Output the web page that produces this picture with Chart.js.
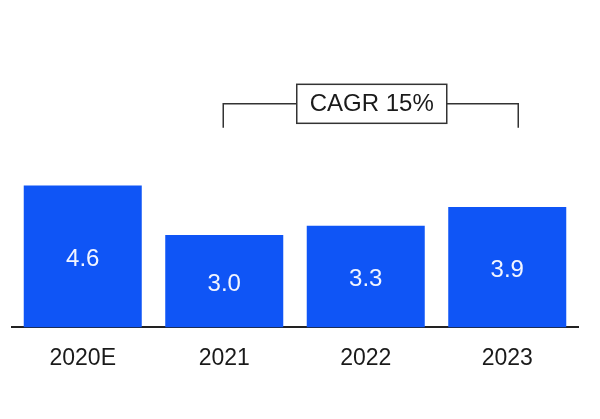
<!DOCTYPE html>
<html>
<head>
<meta charset="utf-8">
<script src="https://cdn.jsdelivr.net/npm/chart.js@4/dist/chart.umd.min.js"></script>
<style>
html,body{margin:0;padding:0;background:#fff;}
#wrap{width:600px;height:419px;}
</style>
</head>
<body>
<div id="wrap"><canvas id="c" width="600" height="419"></canvas></div>
<script>
const categories = ["2020E", "2021", "2022", "2023"];
const values = [4.6, 3.0, 3.3, 3.9];
const valueLabels = ["4.6", "3.0", "3.3", "3.9"];
const cagrText = "CAGR 15%";
const cagrFrom = 1;
const cagrTo = 3;

const FONT = "'Liberation Sans', Arial, sans-serif";

const barLabelPlugin = {
  id: 'barLabels',
  afterDatasetsDraw(chart) {
    const ctx = chart.ctx;
    const meta = chart.getDatasetMeta(0);
    ctx.save();
    ctx.fillStyle = '#f2f5ff';
    ctx.font = '24px ' + FONT;
    ctx.textAlign = 'center';
    ctx.textBaseline = 'middle';
    meta.data.forEach((bar, i) => {
      const p = bar.getProps(['x', 'y', 'base'], true);
      ctx.fillText(valueLabels[i], p.x, (p.y + p.base) / 2 + 3);
    });
    ctx.restore();
  }
};

const bracketPlugin = {
  id: 'cagrBracket',
  afterDraw(chart) {
    const ctx = chart.ctx;
    const xs = chart.scales.x;
    const ys = chart.scales.y;
    const x1 = xs.getPixelForValue(cagrFrom) - 1;
    const x2 = xs.getPixelForValue(cagrTo) + 11;
    const yTop = ys.getPixelForValue(7.25);
    const yBot = ys.getPixelForValue(6.47);
    ctx.save();
    ctx.strokeStyle = '#333';
    ctx.lineWidth = 1.5;
    ctx.beginPath();
    ctx.moveTo(x1, yBot);
    ctx.lineTo(x1, yTop);
    ctx.lineTo(x2, yTop);
    ctx.lineTo(x2, yBot);
    ctx.stroke();
    const cx = (x1 + x2) / 2 + 1;
    const bw = 150, bh = 39;
    ctx.fillStyle = '#fff';
    ctx.fillRect(cx - bw / 2, yTop - bh / 2, bw, bh);
    ctx.strokeRect(cx - bw / 2, yTop - bh / 2, bw, bh);
    ctx.fillStyle = '#1a1a1a';
    ctx.font = '24px ' + FONT;
    ctx.textAlign = 'center';
    ctx.textBaseline = 'middle';
    ctx.fillText(cagrText, cx, yTop + 1);
    ctx.restore();
  }
};

new Chart(document.getElementById('c'), {
  type: 'bar',
  data: {
    labels: categories,
    datasets: [{
      data: values,
      backgroundColor: '#0f55f6',
      borderWidth: 0,
      barPercentage: 0.834,
      categoryPercentage: 1.0
    }]
  },
  options: {
    responsive: false,
    animation: false,
    devicePixelRatio: 1,
    layout: { padding: { left: 12, right: 22, top: 19, bottom: 30 } },
    plugins: { legend: { display: false }, tooltip: { enabled: false } },
    scales: {
      x: {
        grid: { display: false, drawTicks: false },
        border: { display: true, color: '#222', width: 2 },
        ticks: { color: '#1a1a1a', font: { family: FONT, size: 23 }, padding: 17 }
      },
      y: {
        display: false,
        min: 0,
        max: 10
      }
    }
  },
  plugins: [barLabelPlugin, bracketPlugin]
});
</script>
</body>
</html>
